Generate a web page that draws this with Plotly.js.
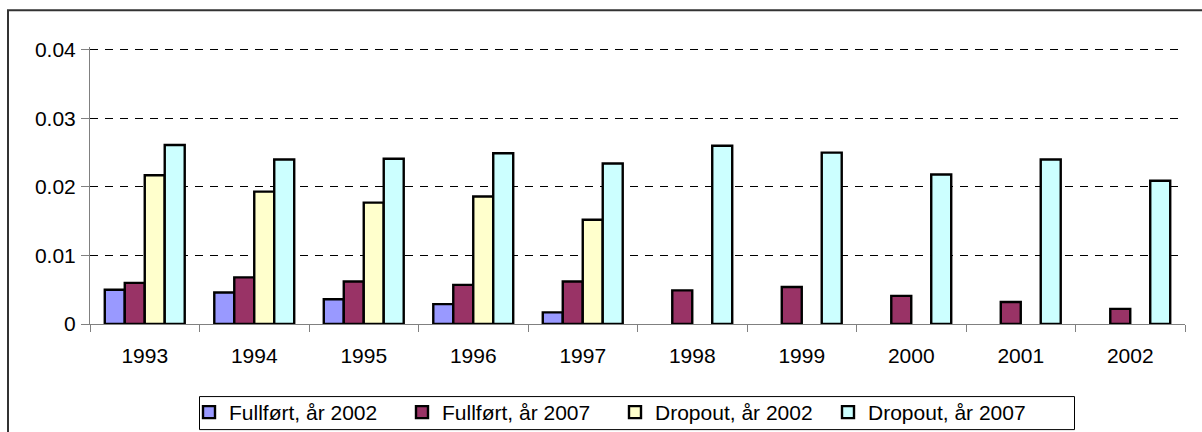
<!DOCTYPE html>
<html>
<head>
<meta charset="utf-8">
<script src="https://cdn.plot.ly/plotly-3.0.1.min.js"></script>
<style>html,body{margin:0;padding:0;background:#fff;}#chart{width:1202px;height:432px;}</style>
</head>
<body>
<div id="chart"></div>
<script>
const years = ['1993','1994','1995','1996','1997','1998','1999','2000','2001','2002'];
const fullfort2002 = [0.0050, 0.0046, 0.0036, 0.0029, 0.0017, null, null, null, null, null];
const fullfort2007 = [0.0060, 0.0068, 0.0062, 0.0057, 0.0062, 0.0049, 0.0054, 0.0041, 0.0032, 0.0022];
const dropout2002 = [0.0217, 0.0193, 0.0177, 0.0186, 0.0152, null, null, null, null, null];
const dropout2007 = [0.0261, 0.0240, 0.0241, 0.0249, 0.0234, 0.0260, 0.0250, 0.0218, 0.0240, 0.0209];
const seriesNames = ['Fullført, år 2002', 'Fullført, år 2007', 'Dropout, år 2002', 'Dropout, år 2007'];
const yTicks = [0, 0.01, 0.02, 0.03, 0.04];
const yTickText = ['0', '0.01', '0.02', '0.03', '0.04'];

const colors = ['#9999FF', '#993366', '#FFFFCC', '#CCFFFF'];
const allSeries = [fullfort2002, fullfort2007, dropout2002, dropout2007];

const traces = allSeries.map((vals, i) => ({
  type: 'bar',
  name: seriesNames[i],
  x: years,
  y: vals,
  marker: {color: colors[i], line: {color: '#000000', width: 2.4}},
  hoverinfo: 'x+y+name'
}));

const W = 1202, H = 432;
const L = 90, R = 17, B = 108;
const yMax = 0.0404;
const pxPerUnit = 274 / 0.04;
const ph = yMax * pxPerUnit;
const T = H - B - ph;
const pw = W - L - R;
const px2py = (py) => (H - B - py) / ph;   // container pixel y -> paper y
const px2px = (px) => (px - L) / pw;       // container pixel x -> paper x

const layout = {
  width: W, height: H,
  margin: {l: L, r: R, t: T, b: B, pad: 0},
  paper_bgcolor: '#ffffff',
  plot_bgcolor: '#ffffff',
  font: {family: 'Liberation Sans, Arial, sans-serif', size: 21, color: '#000000'},
  barmode: 'group',
  bargap: 0.27,
  bargroupgap: 0,
  showlegend: true,
  legend: {
    orientation: 'h',
    xref: 'container', yref: 'container',
    x: 189 / W, xanchor: 'left',
    y: 1 - 412.5 / H, yanchor: 'middle',
    borderwidth: 0,
    bgcolor: 'rgba(0,0,0,0)',
    entrywidth: 168, entrywidthmode: 'pixels',
    font: {family: 'Liberation Sans, Arial, sans-serif', size: 21, color: '#000000'},
    traceorder: 'normal'
  },
  xaxis: {
    type: 'category',
    showline: true, linecolor: '#808080', linewidth: 1,
    ticks: 'outside', tickson: 'boundaries', ticklen: 7, tickcolor: '#808080', tickwidth: 1,
    ticklabelstandoff: 13,
    showgrid: false, zeroline: false,
    tickfont: {size: 21},
    fixedrange: true
  },
  yaxis: {
    range: [0, yMax],
    tickvals: yTicks, ticktext: yTickText,
    showline: true, linecolor: '#808080', linewidth: 1,
    ticks: 'outside', ticklen: 8, tickcolor: '#808080', tickwidth: 1,
    ticklabelstandoff: 1,
    showgrid: true, gridcolor: '#000000', gridwidth: 1, griddash: '8px,7px',
    zeroline: false,
    tickfont: {size: 21},
    fixedrange: true
  },
  shapes: [
    {
      type: 'rect', xref: 'paper', yref: 'paper',
      x0: px2px(8), x1: 1.2,
      y0: -1, y1: px2py(10.5),
      line: {color: '#333333', width: 2},
      fillcolor: 'rgba(0,0,0,0)',
      layer: 'below'
    },
    {
      type: 'rect', xref: 'paper', yref: 'paper',
      x0: px2px(199.5), x1: px2px(1074.5),
      y0: px2py(429.5), y1: px2py(396.5),
      line: {color: '#000000', width: 1},
      fillcolor: 'rgba(0,0,0,0)',
      layer: 'below'
    }
  ]
};

Plotly.newPlot('chart', traces, layout, {displayModeBar: false, staticPlot: true});
</script>
</body>
</html>
